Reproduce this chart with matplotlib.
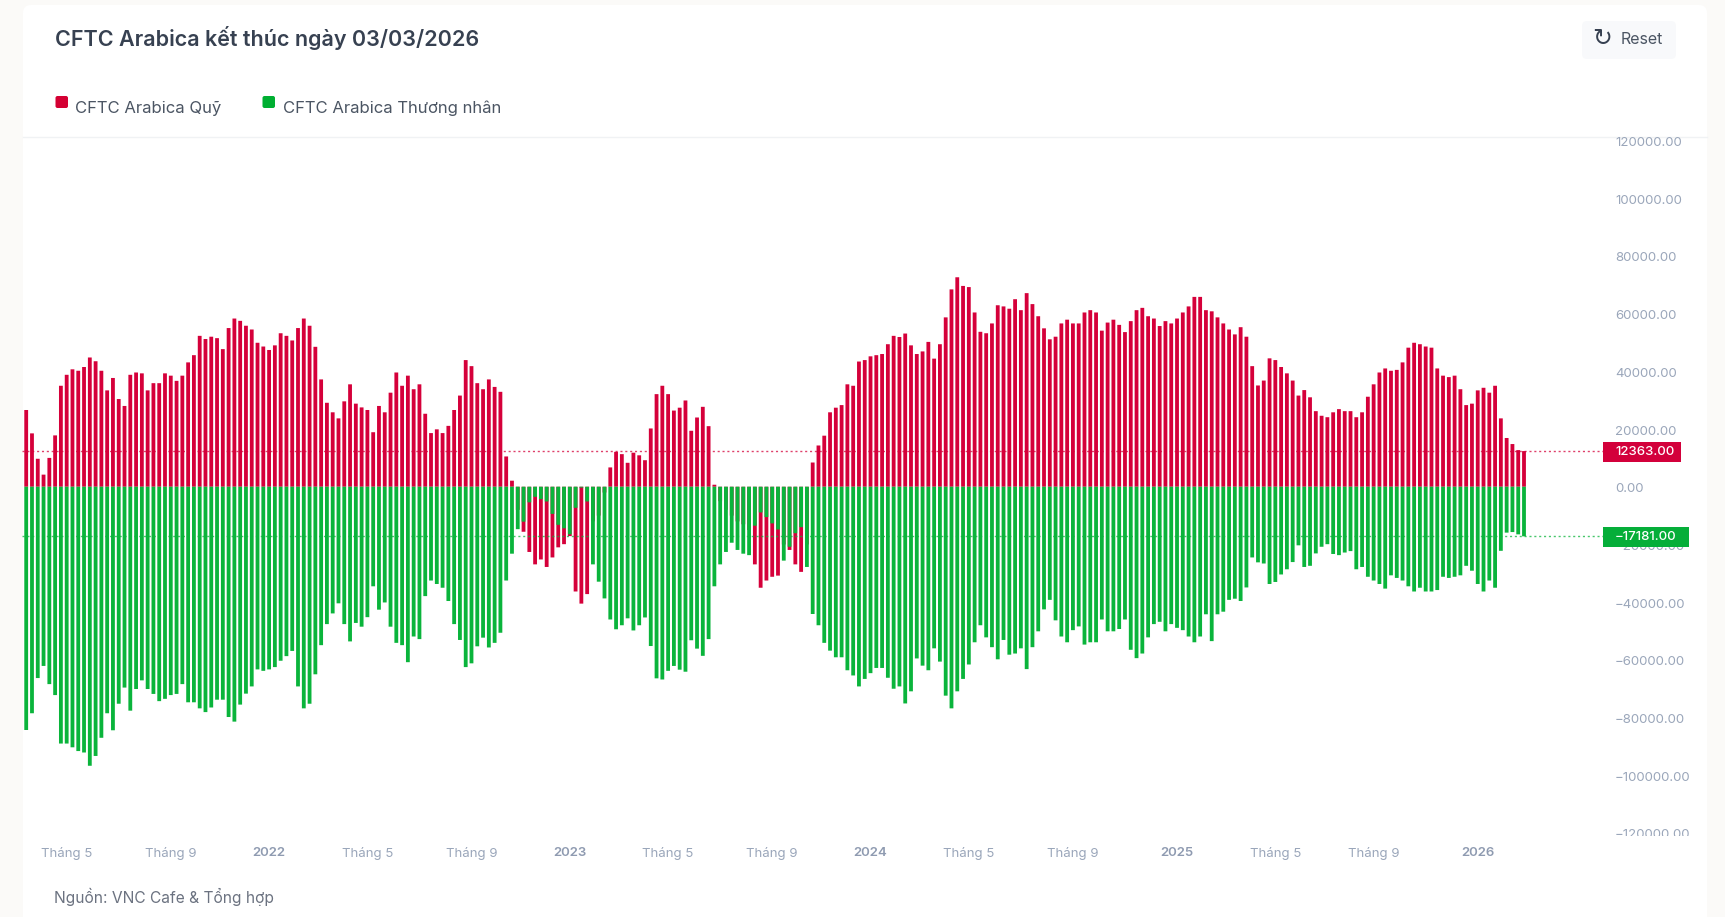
import matplotlib
matplotlib.use('Agg')
import matplotlib.pyplot as plt
from matplotlib.patches import FancyBboxPatch, Rectangle
from matplotlib.transforms import Bbox, ScaledTranslation
import numpy as np

W, H = 1725, 917
RED = '#d5003a'
GREEN = '#0ab43b'
TICK = '#9aa6ba'

# thousands of contracts, weekly
fund = np.array([
    26.6, 18.5, 9.7, 4.2, 10.0, 17.8, 35.0, 38.8, 40.7, 40.2, 41.5, 44.8, 43.5, 40.2, 33.4, 37.7, 30.4, 28.0, 38.8, 39.6,
    39.3, 33.4, 35.9, 35.9, 39.3, 38.5, 36.7, 38.5, 43.1, 45.6, 52.3, 51.2, 52.0, 51.5, 47.7, 55.0, 58.3, 57.5, 55.8, 54.5,
    49.9, 48.6, 47.4, 49.0, 53.2, 52.3, 50.7, 55.0, 58.3, 55.8, 48.5, 37.2, 29.1, 25.8, 23.7, 29.6, 35.5, 28.8, 27.5, 26.6,
    18.9, 28.0, 25.8, 32.6, 39.6, 35.0, 38.5, 33.8, 35.5, 25.3, 18.6, 19.9, 18.6, 21.1, 26.6, 31.6, 43.9, 41.8, 35.9, 33.8,
    37.2, 34.6, 32.9, 10.5, 2.1,
    -8.0, -15.6, -22.6, -26.9, -25.2, -27.8, -24.5, -21.0, -19.9, -17.1, -36.3, -40.5, -37.2, -12.0, -10.0, -2.0,
    6.7, 12.1, 11.3, 8.3, 11.8, 10.9, 9.2, 20.2, 32.1, 35.0, 32.1, 26.4, 27.4, 29.9, 19.4, 24.0, 27.7, 21.0, 0.7,
    -5.0, -8.0, -10.0, -12.0, -13.0, -15.0, -26.9, -35.0, -32.5, -31.2, -30.8, -20.0, -21.9, -26.9, -29.5, -20.0,
    8.4, 14.3, 17.7, 25.8, 27.4, 28.3, 35.5, 35.0, 43.4, 43.9, 45.2, 45.6, 46.0, 49.4, 52.3, 51.9, 53.1, 49.0, 46.0, 46.9,
    50.2, 44.4, 49.4, 58.7, 68.4, 72.6, 69.6, 69.2, 60.4, 53.7, 53.2, 56.6, 62.9, 62.5, 61.7, 65.0, 61.2, 67.1, 63.3, 59.1,
    54.9, 51.1, 52.0, 56.6, 57.9, 56.6, 56.6, 60.4, 61.2, 60.4, 54.1, 56.9, 57.9, 56.1, 53.6, 57.4, 61.2, 62.0, 59.1, 58.3,
    55.7, 57.4, 56.6, 58.3, 60.4, 62.5, 65.8, 65.8, 61.2, 60.8, 58.7, 56.6, 54.5, 52.8, 55.3, 52.0,
    41.8, 35.1, 36.8, 44.5, 43.9, 41.5, 39.3, 36.8, 31.6, 33.5, 31.0, 26.2, 24.6, 24.1, 25.8, 26.9, 26.2, 26.2, 24.1, 25.8,
    31.2, 35.5, 39.6, 41.0, 40.2, 40.5, 43.1, 48.2, 49.9, 49.4, 48.6, 48.2, 41.0, 38.5, 38.0, 38.5, 33.8, 28.3, 28.8, 33.4,
    34.3, 32.6, 35.0, 23.7, 16.9, 14.8, 12.7, 12.363]) * 1000

trader = np.array([
    -84.3, -78.5, -66.3, -62.1, -68.4, -72.2, -89.0, -89.0, -90.3, -91.6, -92.1, -96.7, -93.3, -87.0, -78.5, -84.4, -75.2, -69.6, -77.6, -70.1,
    -67.1, -70.1, -71.8, -74.3, -73.5, -72.2, -71.8, -68.4, -74.7, -74.7, -76.8, -78.1, -76.5, -73.8, -73.8, -79.8, -81.4, -75.5, -71.7, -69.2,
    -63.3, -63.8, -63.3, -62.5, -60.3, -58.7, -56.9, -69.2, -76.8, -75.2, -65.0, -54.9, -47.6, -43.9, -40.4, -47.6, -53.6, -47.2, -48.5, -45.2,
    -34.5, -42.6, -40.1, -48.5, -54.1, -54.9, -60.8, -51.9, -52.8, -37.9, -32.5, -33.7, -35.0, -39.6, -47.6, -53.1, -62.5, -61.2, -55.3, -52.3,
    -55.7, -54.1, -50.6, -32.5, -23.2,
    -14.7, -12.1, -5.4, -3.5, -4.3, -5.1, -9.4, -13.2, -14.4, -16.5, -7.3, -0.3, -5.1, -26.9, -32.9, -38.7,
    -46.0, -49.4, -48.0, -45.6, -49.8, -48.0, -45.3, -55.2, -66.4, -66.8, -63.8, -62.1, -63.4, -64.1, -53.2, -56.1, -58.6, -52.8, -34.5,
    -26.9, -22.6, -19.4, -21.9, -23.2, -23.7, -13.5, -8.9, -10.5, -12.7, -14.8, -25.6, -20.8, -16.1, -14.0, -27.8,
    -44.1, -48.0, -54.1, -56.8, -59.1, -59.1, -63.6, -65.4, -69.2, -66.6, -64.6, -62.8, -62.8, -66.2, -70.0, -69.2, -75.1, -70.9, -59.5, -62.0,
    -63.6, -56.0, -60.6, -72.4, -76.8, -70.9, -66.6, -61.6, -53.9, -48.0, -52.2, -55.6, -59.8, -53.1, -58.2, -57.8, -56.0, -63.2, -55.6, -50.1,
    -42.5, -39.2, -46.3, -51.9, -53.9, -49.7, -48.4, -54.7, -53.9, -53.9, -46.0, -50.1, -50.1, -49.3, -46.0, -56.5, -59.4, -57.8, -52.2, -47.6,
    -46.8, -50.1, -47.6, -48.9, -49.7, -51.9, -53.9, -51.9, -44.2, -53.5, -44.2, -43.3, -39.2, -38.8, -39.6, -34.9,
    -24.5, -26.2, -26.6, -33.7, -33.0, -30.4, -28.6, -26.1, -20.3, -27.8, -27.4, -23.1, -20.8, -19.9, -23.3, -23.7, -22.8, -22.3, -28.6, -27.8,
    -31.2, -32.5, -33.7, -35.3, -30.7, -31.6, -32.5, -34.5, -36.3, -35.0, -36.3, -36.3, -35.8, -31.2, -31.6, -31.2, -30.7, -27.4, -29.1, -33.7,
    -36.3, -32.5, -35.0, -22.2, -15.9, -15.7, -16.5, -17.181]) * 1000

xtick_pos = [7, 25, 42, 59, 77, 94, 111, 129, 146, 163, 181, 199, 216, 233, 251]
xtick_labels = ['Tháng 5', 'Tháng 9', '2022', 'Tháng 5', 'Tháng 9', '2023', 'Tháng 5', 'Tháng 9',
                '2024', 'Tháng 5', 'Tháng 9', '2025', 'Tháng 5', 'Tháng 9', '2026']
ytick_vals = [120000, 100000, 80000, 60000, 40000, 20000, 0, -20000, -40000, -60000, -80000, -100000, -120000]
legend_labels = ['CFTC Arabica Quỹ', 'CFTC Arabica Thương nhân']

plt.rcParams['font.family'] = ['Inter', 'Roboto', 'DejaVu Sans']

fig = plt.figure(figsize=(W / 100, H / 100), dpi=100, facecolor='#fbfaf8')

# page furniture, drawn in pixel coordinates
bg = fig.add_axes((0, 0, 1, 1), zorder=-1)
bg.set_xlim(0, W)
bg.set_ylim(H, 0)
bg.axis('off')
bg.add_patch(FancyBboxPatch((23, 5), 1684, 930, boxstyle='round,pad=0,rounding_size=8', fc='white', ec='none', clip_on=True))
bg.plot([23, 1707], [136.5, 136.5], color='#f0f2f4', lw=1)
bg.text(55, 46.5, 'CFTC Arabica kết thúc ngày 03/03/2026', fontsize=15.5, fontweight='semibold', color='#374151', va='baseline')
bg.add_patch(FancyBboxPatch((55.5, 96), 12.5, 12, boxstyle='round,pad=0,rounding_size=2', fc='#d40033', ec='none'))
bg.add_patch(FancyBboxPatch((262.5, 96), 12.5, 12, boxstyle='round,pad=0,rounding_size=2', fc='#00af32', ec='none'))
bg.text(75, 112.5, legend_labels[0], fontsize=12, color='#4b5563', va='baseline')
bg.text(283, 112.5, legend_labels[1], fontsize=12, color='#4b5563', va='baseline')
bg.add_patch(FancyBboxPatch((1582, 21), 94, 38, boxstyle='round,pad=0,rounding_size=5', fc='#f8f9fb', ec='none'))
bg.text(1602, 38.5, '↻', fontsize=17, color='#374151', va='center', ha='center', family='DejaVu Sans')
bg.text(1620.5, 44.5, 'Reset', fontsize=11.5, color='#4b5563', va='baseline')
bg.text(54.5, 903.5, 'Nguồn: VNC Cafe & Tổng hợp', fontsize=11.2, color='#6b7280', va='baseline')

# chart area: x spans 22..1603 px, y spans 140.5..833 px
left, right, top, bottom = 22, 1603, 140.5, 833
ax = fig.add_axes((left / W, 1 - bottom / H, (right - left) / W, (bottom - top) / H))
ax.patch.set_alpha(0)
x = np.arange(len(fund))
# no snapping so every bar keeps the same soft width
ax.bar(x, fund, width=0.66, color=RED, zorder=2, snap=False)
ax.bar(x, trader, width=0.66, color=GREEN, zorder=3, snap=False)
ax.set_xlim((left - 26.2) / 5.783, (right - 26.2) / 5.783)
ax.set_ylim(-120000, 120000)

last_fund, last_trader = fund[-1], trader[-1]
ax.axhline(last_fund, color=RED, lw=1, ls=(0, (1.5, 2)), alpha=0.75, zorder=4)
ax.axhline(last_trader, color=GREEN, lw=1, ls=(0, (1.5, 2)), alpha=0.75, zorder=4)

for s in ax.spines.values():
    s.set_visible(False)
ax.yaxis.tick_right()
ax.set_yticks(ytick_vals)
ax.set_yticklabels([f'{v:.2f}'.replace('-', '−') for v in ytick_vals])
ax.set_xticks(xtick_pos)
ax.set_xticklabels(xtick_labels)
ax.tick_params(axis='y', length=0, pad=8.6, labelsize=9.5, labelcolor=TICK)
ax.tick_params(axis='x', length=0, pad=9.8, labelsize=9.5, labelcolor=TICK)
for lab in ax.get_xticklabels():
    if lab.get_text().isdigit():
        lab.set_fontweight('semibold')
        lab.set_color('#8f9bb1')

# top and bottom tick labels get cut off in the original
clip = Bbox([[1600, H - 836], [W, H - 137]])
nudge = ScaledTranslation(0, -1 / 100, fig.dpi_scale_trans)
for lab in ax.get_yticklabels():
    lab.set_clip_box(clip)
    lab.set_clip_on(True)
    lab.set_transform(lab.get_transform() + nudge)

# price tags on the axis
ytrans = ax.get_yaxis_transform()
px_w = right - left
for val, col, w in [(last_fund, '#d3003b', 78), (last_trader, '#05ae39', 86)]:
    ax.add_patch(Rectangle((1, val - 3500), w / px_w, 7000, transform=ytrans + nudge, fc=col, ec='none', clip_on=False, zorder=6))
    ax.text(1 + 12 / px_w, val, f'{val:.2f}'.replace('-', '−'), transform=ytrans + nudge, color='white', fontsize=9.5,
            fontweight='medium', va='center', ha='left', zorder=7, clip_on=False)

fig.savefig('out.png', dpi=100)
